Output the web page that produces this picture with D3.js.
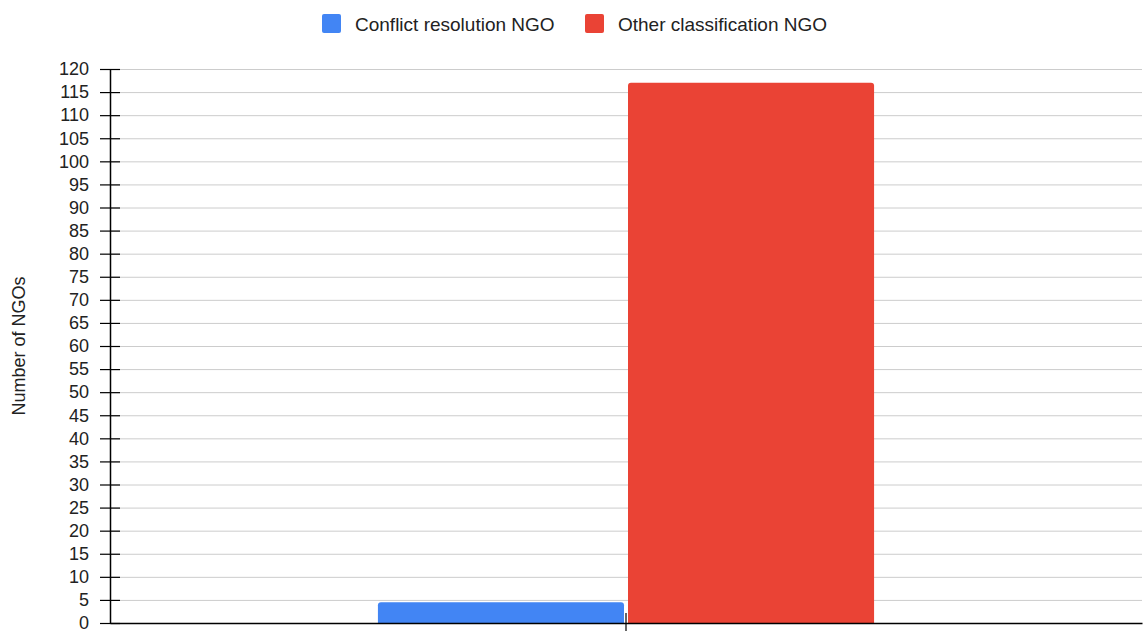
<!DOCTYPE html>
<html>
<head>
<meta charset="utf-8">
<script src="https://cdn.jsdelivr.net/npm/d3@7"></script>
<style>
  html, body { margin: 0; padding: 0; background: #fff; }
  svg { display: block; font-family: Arial, "Liberation Sans", sans-serif; }
</style>
</head>
<body>
<svg id="chart" width="1143" height="631"></svg>
<script>
const categories = [""];
const seriesNames = ["Conflict resolution NGO", "Other classification NGO"];
const seriesValues = [4.5, 117];
const seriesColors = ["#4285f4", "#ea4335"];
const yTicks = [0, 5, 10, 15, 20, 25, 30, 35, 40, 45, 50, 55, 60, 65, 70, 75, 80, 85, 90, 95, 100, 105, 110, 115, 120];
const yTitle = "Number of NGOs";

const W = 1143, H = 631;
const plot = { left: 110, right: 1142, top: 69, bottom: 623 };
const svg = d3.select("#chart");

const y = d3.scaleLinear().domain([0, 120]).range([plot.bottom, plot.top]);
const x = d3.scaleBand().domain(categories).range([plot.left, plot.right])
  .paddingInner(0).paddingOuter(0.54);
const xs = d3.scaleBand().domain(seriesNames).range([0, x.bandwidth()]).paddingInner(0.016).paddingOuter(0);

// gridlines
svg.append("g").selectAll("line").data(yTicks.filter(d => d !== 0)).join("line")
  .attr("x1", plot.left).attr("x2", plot.right)
  .attr("y1", d => y(d) + 0.5).attr("y2", d => y(d) + 0.5)
  .attr("stroke", "#cccccc").attr("stroke-width", 1);

// bars
const r = 3;
const rows = [];
categories.forEach(c => seriesNames.forEach((s, i) => rows.push({ c, s, v: seriesValues[i], color: seriesColors[i] })));
svg.append("g").selectAll("path").data(rows).join("path")
  .attr("fill", d => d.color)
  .attr("d", d => {
    const x0 = x(d.c) + xs(d.s), w = xs.bandwidth();
    const y0 = y(d.v), y1 = y(0);
    return `M${x0},${y1}V${y0 + r}Q${x0},${y0} ${x0 + r},${y0}H${x0 + w - r}Q${x0 + w},${y0} ${x0 + w},${y0 + r}V${y1}Z`;
  });

// y axis
const yAxis = svg.append("g").attr("transform", `translate(${plot.left},0)`)
  .call(d3.axisLeft(y).tickValues(yTicks).tickSize(10).tickSizeOuter(0).tickPadding(11));
yAxis.select(".domain").attr("stroke", "#000").attr("stroke-width", 1.5);
yAxis.selectAll(".tick line").attr("x1", 10).attr("stroke", "#000").attr("stroke-width", 1.2);
yAxis.selectAll(".tick text").attr("font-size", 18).attr("fill", "#222")
  .attr("font-family", 'Arial, "Liberation Sans", sans-serif');

// x axis
const xAxis = svg.append("g").attr("transform", `translate(0,${plot.bottom})`)
  .call(d3.axisBottom(x).tickSize(10).tickSizeOuter(0));
xAxis.select(".domain").attr("stroke", "#000").attr("stroke-width", 1.5);
xAxis.selectAll(".tick line").attr("y1", -10).attr("stroke", "#000").attr("stroke-width", 1.2);
xAxis.selectAll(".tick text").remove();

// y title
svg.append("text")
  .attr("transform", `translate(25,${(plot.top + plot.bottom) / 2}) rotate(-90)`)
  .attr("text-anchor", "middle").attr("font-size", 18).attr("fill", "#222")
  .text(yTitle);

// legend
const legendX = [322, 585];
const lg = svg.append("g").selectAll("g").data(seriesNames).join("g")
  .attr("transform", (d, i) => `translate(${legendX[i]},14)`);
lg.append("rect").attr("width", 19).attr("height", 19).attr("rx", 2)
  .attr("fill", (d, i) => seriesColors[i]);
lg.append("text").attr("x", 33).attr("y", 16.5).attr("font-size", 19).attr("fill", "#222")
  .text(d => d);
</script>
</body>
</html>
